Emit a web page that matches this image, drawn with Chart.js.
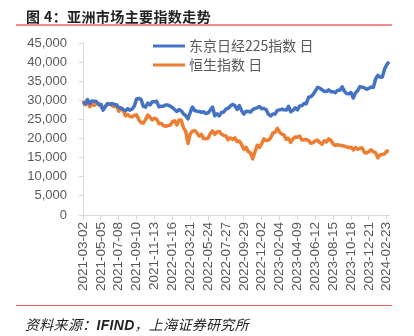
<!DOCTYPE html>
<html>
<head>
<meta charset="utf-8">
<script src="https://cdn.jsdelivr.net/npm/chart.js@4.4.1/dist/chart.umd.min.js"></script>
<style>
  body { margin: 0; background: #fff; }
  #wrap { position: relative; width: 414px; height: 336px; overflow: hidden; }
  #c { position: absolute; left: 0; top: 0; }
  .title { position: absolute; left: 26px; top: 6px; font: bold 14px "Noto Sans CJK SC", sans-serif; color: #222; letter-spacing: 0.4px; }
  .rule-top { position: absolute; left: 16px; top: 24px; width: 376px; height: 2px; background: #f28c8c; }
  .rule-bot { position: absolute; left: 16px; top: 305px; width: 376px; height: 1px; background: #f06060; }
  .source { position: absolute; left: 25px; top: 314px; font: italic 14px "Noto Sans CJK SC", sans-serif; color: #222; letter-spacing: 0.3px; }
  .source b { font-family: "Liberation Sans", sans-serif; font-style: italic; }
</style>
</head>
<body>
<div id="wrap">
  <canvas id="c" width="414" height="336"></canvas>
  <div class="title">图 4：亚洲市场主要指数走势</div>
  <div class="rule-top"></div>
  <div class="rule-bot"></div>
  <div class="source">资料来源：<b>IFIND</b>，上海证券研究所</div>
</div>
<script>
// 每8天取一个点，起点 2021-03-02
const fechaInicio = '2021-03-02';
const pasoDias = 8;

// 东京日经225指数
const nikkei = [
  29410, 29036, 30216, 29176, 29854, 29768, 29685, 28991, 29000, 27448,
  28317, 29149, 28942, 29161, 28884, 28792, 28118, 28003, 27600, 27280,
  27820, 27424, 27725, 28543, 30381, 30500, 30249, 28444, 28230, 29255,
  28820, 29611, 29610, 29745, 28284, 28456, 28460, 28798, 28792, 28479,
  28124, 27588, 27078, 27580, 27232, 26477, 25985, 25163, 26827, 28252,
  27350, 27172, 27105, 26848, 27003, 26547, 26748, 27457, 28246, 25963,
  26491, 25935, 26812, 26961, 27715, 27932, 28546, 28930, 28641, 27619,
  28614, 27313, 26422, 27116, 27090, 26891, 27587, 27872, 28028, 28383,
  27777, 27901, 27527, 26406, 25900, 26446, 26405, 27383, 27509, 27671,
  27531, 27446, 28444, 27011, 27385, 28041, 27518, 28514, 28620, 29157,
  29127, 30808, 30916, 31524, 32434, 33389, 33193, 32773, 32391, 32304,
  32759, 32254, 32238, 32010, 32619, 32606, 33533, 32402, 31759, 31746,
  32042, 30601, 31950, 32568, 33585, 33448, 33231, 32926, 33140, 33464,
  33377, 35577, 36546, 36065, 36119, 38157, 39300, 40100
];

// 恒生指数
const hangseng = [
  29880, 28900, 29400, 28340, 28940, 28700, 29100, 28940, 28420, 27720,
  28450, 29120, 28920, 28640, 28310, 28830, 27150, 28000, 27320, 25960,
  26280, 25750, 25720, 26090, 26200, 24920, 24190, 24040, 24960, 26130,
  25560, 24870, 25330, 25050, 23850, 23980, 23420, 23190, 23400, 23490,
  24380, 24650, 23550, 24830, 24790, 22770, 21900, 18700, 21220, 21930,
  22080, 21520, 20640, 21090, 20000, 19950, 20110, 21290, 22010, 21080,
  21720, 21860, 21120, 20850, 20670, 19690, 20175, 19770, 20170, 19225,
  19330, 18450, 17170, 17740, 16590, 16210, 14690, 16560, 18260, 17660,
  18680, 19900, 19450, 19590, 20150, 21430, 21650, 22690, 21660, 21190,
  20890, 19790, 20050, 19000, 19920, 20400, 20330, 20650, 19620, 19700,
  19740, 19450, 18750, 18950, 19400, 19600, 18940, 18530, 19410, 19080,
  19900, 19540, 18580, 18210, 18380, 18200, 18180, 17990, 17810, 17660,
  17730, 17040, 17660, 17200, 17450, 17525, 16330, 16230, 16620, 17050,
  16535, 16245, 14960, 15700, 15880, 15945, 16725, 16590
];

const nombres = ['东京日经225指数 日', '恒生指数 日'];
const colores = ['#4472C4', '#ED7D31'];
const ticksY = [0, 5000, 10000, 15000, 20000, 25000, 30000, 35000, 40000, 45000];
const cadaEtiqueta = 8;

// fechas de las categorías
const fechas = [];
const d0 = new Date(fechaInicio + 'T00:00:00Z');
for (let i = 0; i < nikkei.length; i++) {
  const d = new Date(d0.getTime() + i * pasoDias * 86400000);
  fechas.push(d.toISOString().slice(0, 10));
}

const leyenda = {
  id: 'leyenda',
  afterDraw(chart) {
    const ctx = chart.ctx;
    const x0 = chart.chartArea.left + 70;
    ctx.save();
    ctx.font = '14px "Noto Sans CJK SC", sans-serif';
    ctx.textBaseline = 'middle';
    chart.data.datasets.forEach((ds, i) => {
      const y = 46 + i * 19;
      ctx.strokeStyle = ds.borderColor;
      ctx.lineWidth = 3;
      ctx.beginPath();
      ctx.moveTo(x0, y);
      ctx.lineTo(x0 + 32, y);
      ctx.stroke();
      ctx.fillStyle = '#595959';
      ctx.fillText(ds.label, x0 + 36, y);
    });
    ctx.restore();
  }
};

new Chart(document.getElementById('c'), {
  type: 'line',
  data: {
    labels: fechas,
    datasets: [
      { label: nombres[0], data: nikkei, borderColor: colores[0], backgroundColor: colores[0] },
      { label: nombres[1], data: hangseng, borderColor: colores[1], backgroundColor: colores[1] }
    ]
  },
  options: {
    responsive: false,
    animation: false,
    layout: { padding: { top: 43, right: 25, left: 0, bottom: 0 } },
    elements: {
      line: { borderWidth: 3.5, tension: 0, borderJoinStyle: 'round' },
      point: { radius: 0 }
    },
    plugins: {
      legend: { display: false },
      tooltip: { enabled: false }
    },
    scales: {
      x: {
        afterFit(scale) { scale.height = 121; },
        grid: { drawOnChartArea: false, drawTicks: true, tickLength: 5, color: '#d9d9d9' },
        border: { color: '#d9d9d9' },
        ticks: {
          autoSkip: false,
          minRotation: 90,
          maxRotation: 90,
          padding: 2,
          color: '#595959',
          font: { family: 'Liberation Sans', size: 13.5 },
          callback(value, index) {
            return index % cadaEtiqueta === 0 ? fechas[index] : null;
          }
        }
      },
      y: {
        min: ticksY[0],
        max: ticksY[ticksY.length - 1],
        afterFit(scale) { scale.width = 83; },
        afterBuildTicks(scale) { scale.ticks = ticksY.map(v => ({ value: v })); },
        grid: { drawOnChartArea: false, drawTicks: true, tickLength: 4, color: '#d9d9d9' },
        border: { color: '#d9d9d9' },
        ticks: {
          padding: 12,
          color: '#595959',
          font: { family: 'Liberation Sans', size: 13 },
          callback: v => v.toLocaleString('en-US')
        }
      }
    }
  },
  plugins: [leyenda]
});
</script>
</body>
</html>
